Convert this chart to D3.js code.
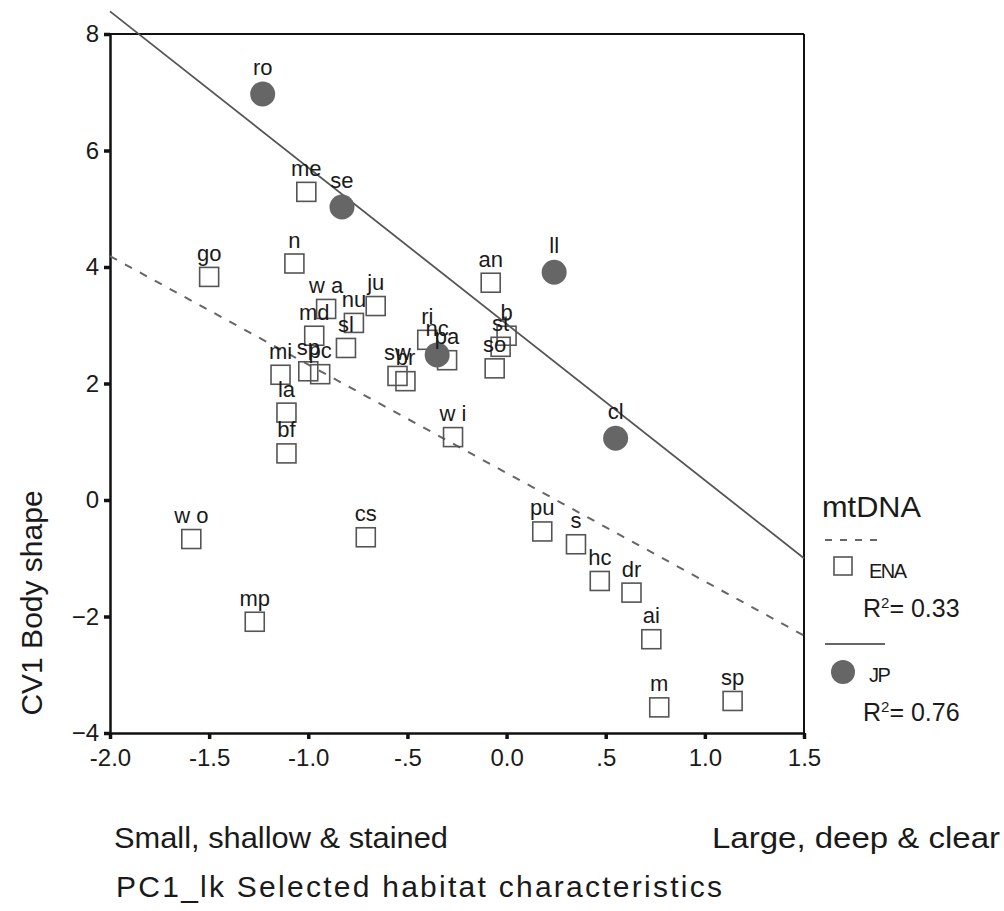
<!DOCTYPE html>
<html>
<head>
<meta charset="utf-8">
<script src="https://cdn.jsdelivr.net/npm/d3@7"></script>
<style>
  body { margin: 0; background: #fff; }
  svg text { font-family: "Liberation Sans", Arial, sans-serif; fill: #1a1a1a; }
</style>
</head>
<body>
<svg id="chart" width="1004" height="911"></svg>
<script>
// ENA populations (open squares)
const enaLabels = ["me", "go", "n", "w a", "ju", "nu", "sl", "md", "mi", "sp", "pc", "la", "bf",
    "sw", "br", "ri", "pa", "an", "b", "st", "so", "w i", "w o", "cs", "mp", "pu", "s", "hc",
    "dr", "ai", "m", "sp"];
const enaX = [-1.01, -1.50, -1.07, -0.91, -0.66, -0.77, -0.81, -0.97, -1.14, -1.00, -0.94, -1.11, -1.11,
    -0.55, -0.51, -0.40, -0.30, -0.08, 0.00, -0.03, -0.06, -0.27, -1.59, -0.71, -1.27, 0.18, 0.35, 0.47,
    0.63, 0.73, 0.77, 1.14];
const enaY = [5.29, 3.83, 4.06, 3.28, 3.33, 3.04, 2.61, 2.82, 2.15, 2.21, 2.16, 1.50, 0.80,
    2.13, 2.04, 2.75, 2.40, 3.73, 2.82, 2.63, 2.26, 1.08, -0.67, -0.64, -2.09, -0.54, -0.76, -1.39,
    -1.59, -2.39, -3.56, -3.45];

// JP populations (filled circles)
const jpLabels = ["ro", "se", "ll", "nc", "cl"];
const jpX = [-1.23, -0.83, 0.24, -0.35, 0.55];
const jpY = [6.97, 5.03, 3.91, 2.49, 1.06];

const xTicks = [-2.0, -1.5, -1.0, -0.5, 0.0, 0.5, 1.0, 1.5];
const xTickLabels = ["-2.0", "-1.5", "-1.0", "-.5", "0.0", ".5", "1.0", "1.5"];
const yTicks = [8, 6, 4, 2, 0, -2, -4];

const legendGroups = ["ENA", "JP"];
const legendR2 = ["0.33", "0.76"];

const svg = d3.select("#chart");
const margin = {top: 34, left: 110, right: 200, bottom: 178};
const width = 1004, height = 911;

const x = d3.scaleLinear().domain([-2, 1.5]).range([margin.left, width - margin.right]);
const y = d3.scaleLinear().domain([-4, 8]).range([height - margin.bottom, margin.top]);

const ena = enaLabels.map((l, i) => ({label: l, x: enaX[i], y: enaY[i]}));
const jp = jpLabels.map((l, i) => ({label: l, x: jpX[i], y: jpY[i]}));

// least squares fit
function fit(pts) {
    let mx = d3.mean(pts, d => d.x), my = d3.mean(pts, d => d.y);
    let sxy = d3.sum(pts, d => (d.x - mx) * (d.y - my));
    let sxx = d3.sum(pts, d => (d.x - mx) ** 2);
    let b = sxy / sxx;
    return xv => my + b * (xv - mx);
}

// frame (top + right)
svg.append("line").attr("x1", x(-2)).attr("x2", x(1.5)).attr("y1", y(8)).attr("y2", y(8))
    .attr("stroke", "#111").attr("stroke-width", 2);
svg.append("line").attr("x1", x(1.5)).attr("x2", x(1.5)).attr("y1", y(8)).attr("y2", y(-4))
    .attr("stroke", "#111").attr("stroke-width", 2);

// axes
const xAxis = svg.append("g")
    .attr("transform", `translate(0,${y(-4)})`)
    .call(d3.axisBottom(x).tickValues(xTicks).tickFormat((d, i) => xTickLabels[i])
        .tickSize(6).tickPadding(10).tickSizeOuter(0));
const yAxis = svg.append("g")
    .attr("transform", `translate(${x(-2)},0)`)
    .call(d3.axisLeft(y).tickValues(yTicks).tickSize(6).tickPadding(5).tickSizeOuter(0));

[xAxis, yAxis].forEach(a => {
    a.select(".domain").attr("stroke", "#111").attr("stroke-width", 2.5);
    a.selectAll(".tick line").attr("stroke", "#111").attr("stroke-width", 3.5);
    a.selectAll(".tick text").attr("font-size", 24).attr("fill", "#1a1a1a")
        .attr("font-family", "Liberation Sans, Arial, sans-serif");
});

// regression lines
const fEna = fit(ena), fJp = fit(jp);
svg.append("line")
    .attr("x1", x(-2)).attr("y1", y(fEna(-2)))
    .attr("x2", x(1.5)).attr("y2", y(fEna(1.5)))
    .attr("stroke", "#666").attr("stroke-width", 2).attr("stroke-dasharray", "8,9");
svg.append("line")
    .attr("x1", x(-2)).attr("y1", y(fJp(-2)))
    .attr("x2", x(1.5)).attr("y2", y(fJp(1.5)))
    .attr("stroke", "#555").attr("stroke-width", 1.8);

// markers
const sq = 19;
svg.append("g").selectAll("rect").data(ena).enter().append("rect")
    .attr("x", d => x(d.x) - sq / 2).attr("y", d => y(d.y) - sq / 2)
    .attr("width", sq).attr("height", sq)
    .attr("fill", "none").attr("stroke", "#555").attr("stroke-width", 1.6);
svg.append("g").selectAll("circle").data(jp).enter().append("circle")
    .attr("cx", d => x(d.x)).attr("cy", d => y(d.y)).attr("r", 12.5)
    .attr("fill", "#666");

// point labels
svg.append("g").selectAll("text").data(ena).enter().append("text")
    .attr("x", d => x(d.x)).attr("y", d => y(d.y) - 16)
    .attr("text-anchor", "middle").attr("font-size", 22)
    .text(d => d.label);
svg.append("g").selectAll("text").data(jp).enter().append("text")
    .attr("x", d => x(d.x)).attr("y", d => y(d.y) - 19)
    .attr("text-anchor", "middle").attr("font-size", 22)
    .text(d => d.label);

// axis titles
svg.append("text")
    .attr("transform", `translate(42,${603}) rotate(-90)`)
    .attr("text-anchor", "middle").attr("font-size", 30)
    .text("CV1 Body shape");
svg.append("text").attr("x", 114).attr("y", 848).attr("font-size", 30)
    .attr("textLength", 334).attr("lengthAdjust", "spacingAndGlyphs")
    .text("Small, shallow & stained");
svg.append("text").attr("x", 712).attr("y", 848).attr("font-size", 30)
    .attr("textLength", 288).attr("lengthAdjust", "spacingAndGlyphs")
    .text("Large, deep & clear");
svg.append("text").attr("x", 116).attr("y", 897).attr("font-size", 30)
    .attr("textLength", 606).attr("lengthAdjust", "spacing")
    .text("PC1_lk Selected habitat characteristics");

// legend
const lg = svg.append("g");
lg.append("text").attr("x", 822).attr("y", 517).attr("font-size", 30)
    .attr("textLength", 99).attr("lengthAdjust", "spacingAndGlyphs").text("mtDNA");
legendGroups.forEach((g, i) => {
    const y0 = 540 + i * 104;
    lg.append("line").attr("x1", 825).attr("x2", 885).attr("y1", y0).attr("y2", y0)
        .attr("stroke", "#666").attr("stroke-width", 1.8)
        .attr("stroke-dasharray", i === 0 ? "7,8" : null);
    if (i === 0) {
        lg.append("rect").attr("x", 834).attr("y", 557).attr("width", 18).attr("height", 18)
            .attr("fill", "none").attr("stroke", "#555").attr("stroke-width", 1.6);
    } else {
        lg.append("circle").attr("cx", 843).attr("cy", y0 + 28).attr("r", 12).attr("fill", "#666");
    }
    lg.append("text").attr("x", 869).attr("y", y0 + 38).attr("font-size", 20)
        .attr("letter-spacing", -1.5).text(g);
    const t = lg.append("text").attr("x", 863).attr("y", y0 + 77).attr("font-size", 25);
    t.append("tspan").text("R");
    t.append("tspan").attr("font-size", 15).attr("dy", -9).text("2");
    t.append("tspan").attr("dy", 9).text("= " + legendR2[i]);
});
</script>
</body>
</html>
